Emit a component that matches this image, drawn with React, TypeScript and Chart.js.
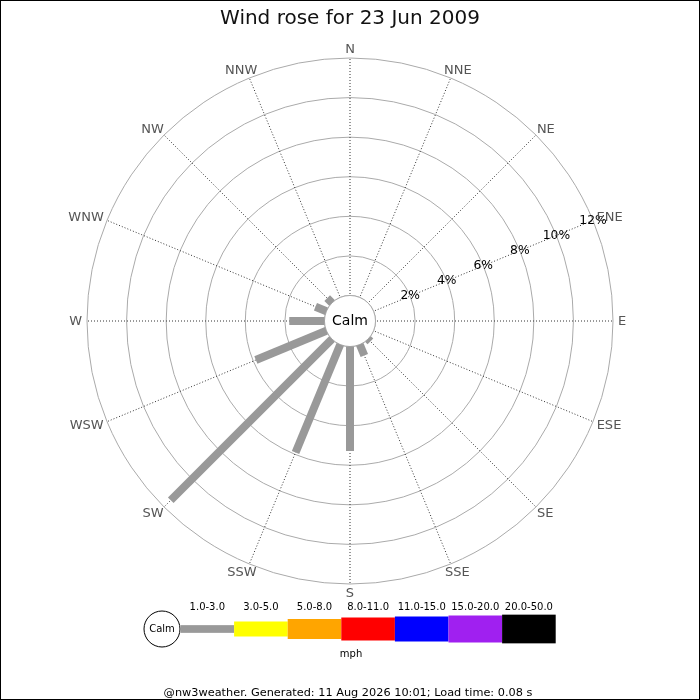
import React, { useEffect, useRef } from 'react';
import { Chart, registerables } from 'chart.js';

Chart.register(...registerables);

// ---- data ----
const DIRECTIONS = ['N', 'NNE', 'NE', 'ENE', 'E', 'ESE', 'SE', 'SSE', 'S', 'SSW', 'SW', 'WSW', 'W', 'WNW', 'NW', 'NNW'];
const FREQUENCIES = [0, 0, 0, 0, 0, 0, 0.17, 0.6, 5.28, 5.9, 11.52, 3.86, 1.78, 0.6, 0.34, 0];
const RING_TICKS = [2, 4, 6, 8, 10, 12];
const SPEED_BINS = ['1.0-3.0', '3.0-5.0', '5.0-8.0', '8.0-11.0', '11.0-15.0', '15.0-20.0', '20.0-50.0'];
const BIN_COLORS = ['#999999', '#ffff00', '#ffa500', '#ff0000', '#0000ff', '#a020f0', '#000000'];
const TITLE = 'Wind rose for 23 Jun 2009';
const CALM_LABEL = 'Calm';
const UNIT_LABEL = 'mph';
const FOOTER = '@nw3weather. Generated: 11 Aug 2026 10:01; Load time: 0.08 s';

// ---- style ----
const FONT = '"DejaVu Sans", "Liberation Sans", sans-serif';
const CALM_OFFSET = 1.29; // calm circle radius expressed in % units
const MAX_PCT = 12;
const LEGEND_HEIGHTS = [7.7, 15, 20, 23, 25, 27, 28.7];

const windRosePlugin = {
  id: 'windRoseDecor',
  beforeDatasetsDraw(chart: any) {
    const s = chart.scales.r;
    const ctx = chart.ctx;
    const rc = s.getDistanceFromCenterForValue(0);
    ctx.save();
    ctx.beginPath();
    ctx.arc(s.xCenter, s.yCenter, rc, 0, Math.PI * 2);
    ctx.fillStyle = '#ffffff';
    ctx.fill();
    ctx.strokeStyle = '#aaaaaa';
    ctx.lineWidth = 1;
    ctx.stroke();
    ctx.fillStyle = '#000000';
    ctx.font = '14px ' + FONT;
    ctx.textAlign = 'center';
    ctx.textBaseline = 'middle';
    ctx.fillText(CALM_LABEL, s.xCenter, s.yCenter + 0.5);
    ctx.restore();
  },
  afterDatasetsDraw(chart: any) {
    const s = chart.scales.r;
    const ctx = chart.ctx;
    const meta = chart.getDatasetMeta(0);
    ctx.save();
    // bars
    ctx.strokeStyle = BIN_COLORS[0];
    ctx.lineWidth = 8;
    ctx.lineCap = 'butt';
    FREQUENCIES.forEach((v, i) => {
      if (!v) return;
      const p0 = s.getPointPositionForValue(i, 0);
      const p1 = meta.data[i];
      ctx.beginPath();
      ctx.moveTo(p0.x, p0.y);
      ctx.lineTo(p1.x, p1.y);
      ctx.stroke();
    });
    // percentage labels along ENE
    ctx.fillStyle = '#000000';
    ctx.font = '12.3px ' + FONT;
    ctx.textAlign = 'center';
    ctx.textBaseline = 'middle';
    const labelIdx = DIRECTIONS.indexOf('ENE');
    RING_TICKS.forEach((t) => {
      const p = s.getPointPositionForValue(labelIdx, t);
      ctx.fillText(t + '%', p.x, p.y);
    });
    // direction labels
    ctx.fillStyle = '#555555';
    ctx.font = '13px ' + FONT;
    const R = 268;
    DIRECTIONS.forEach((d, i) => {
      const p = s.getPointPosition(i, R);
      const dx = (p.x - s.xCenter) / R;
      const dy = (p.y - s.yCenter) / R;
      const w = ctx.measureText(d).width;
      ctx.fillText(d, p.x + dx * w / 2, p.y + dy * 4 + 0.5);
    });
    ctx.restore();
  },
  afterDraw(chart: any) {
    const ctx = chart.ctx;
    ctx.save();
    // legend calm circle
    ctx.beginPath();
    ctx.arc(162, 629, 18, 0, Math.PI * 2);
    ctx.fillStyle = '#ffffff';
    ctx.fill();
    ctx.strokeStyle = '#000000';
    ctx.lineWidth = 1;
    ctx.stroke();
    ctx.fillStyle = '#000000';
    ctx.font = '10px ' + FONT;
    ctx.textAlign = 'center';
    ctx.textBaseline = 'middle';
    ctx.fillText(CALM_LABEL, 162, 629.5);
    // legend bins
    const x0 = 180.5;
    const bw = 53.6;
    SPEED_BINS.forEach((label, i) => {
      const h = LEGEND_HEIGHTS[i];
      const x = x0 + i * bw;
      ctx.fillStyle = BIN_COLORS[i];
      ctx.fillRect(x, 629 - h / 2, bw, h);
      ctx.fillStyle = '#000000';
      ctx.fillText(label, x + bw / 2, 607);
    });
    ctx.fillText(UNIT_LABEL, 351, 654);
    ctx.font = '11.3px ' + FONT;
    ctx.fillText(FOOTER, 348, 693);
    // frame
    ctx.strokeStyle = '#000000';
    ctx.lineWidth = 1;
    ctx.strokeRect(0.5, 0.5, 699, 699);
    ctx.restore();
  },
};

export default function App() {
  const ref = useRef<HTMLCanvasElement | null>(null);
  useEffect(() => {
    if (!ref.current) return;
    const chart = new Chart(ref.current, {
      type: 'radar',
      data: {
        labels: DIRECTIONS,
        datasets: [
          {
            label: 'Frequency',
            data: FREQUENCIES,
            showLine: false,
            fill: false,
            borderWidth: 0,
            pointRadius: 0,
            pointHoverRadius: 0,
          },
        ],
      },
      options: {
        animation: false,
        responsive: true,
        maintainAspectRatio: false,
        events: [],
        layout: { padding: { left: 87, right: 87, top: 0, bottom: 116 } },
        plugins: {
          legend: { display: false },
          tooltip: { enabled: false },
          title: {
            display: true,
            text: TITLE,
            color: '#111111',
            font: { family: FONT, size: 20, weight: 'normal' },
            padding: { top: 7, bottom: 27 },
          },
        },
        scales: {
          r: {
            min: -CALM_OFFSET,
            max: MAX_PCT,
            afterBuildTicks: (scale: any) => {
              scale.ticks = [0, ...RING_TICKS].map((v) => ({ value: v }));
            },
            ticks: { display: false },
            grid: { circular: true, color: '#aaaaaa', lineWidth: 1 },
            angleLines: { display: true, color: '#333333', lineWidth: 1, borderDash: [1, 2] },
            pointLabels: { display: false },
          },
        },
      } as any,
      plugins: [windRosePlugin],
    });
    return () => chart.destroy();
  }, []);
  return (
    <div style={{ position: 'absolute', left: 0, top: 0, width: 700, height: 700, background: '#fff' }}>
      <canvas ref={ref} />
    </div>
  );
}
